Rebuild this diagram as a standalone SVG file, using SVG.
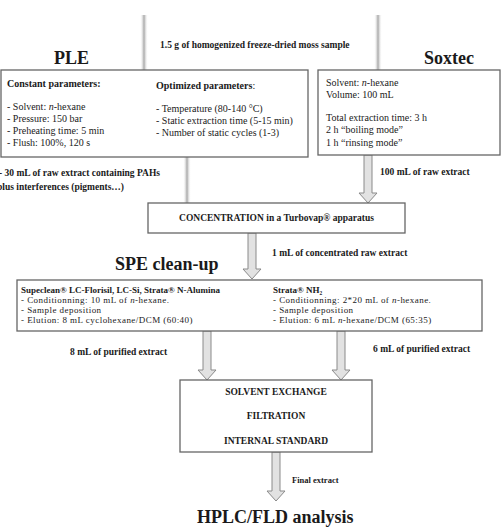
<svg xmlns="http://www.w3.org/2000/svg" width="501" height="530" viewBox="0 0 501 530">
<style>
text{font-family:"Liberation Serif","Times New Roman",serif;fill:#1a1a1a}
.b{font-weight:bold}
.t{font-size:10px}
.s{font-size:9.5px}
.p{font-size:9px}
.ls{letter-spacing:0.45px}
.h{font-size:18px;font-weight:bold}
.i{font-style:italic}
.box{fill:#fff;stroke:#666;stroke-width:1.3}
.arr{fill:#e2e2e2;stroke:#8a8a8a;stroke-width:1}
.bar{fill:url(#g)}
</style>
<defs>
<linearGradient id="g" x1="0" x2="1" y1="0" y2="0">
<stop offset="0" stop-color="#fff" stop-opacity="0"/>
<stop offset="0.5" stop-color="#a8a8a8"/>
<stop offset="1" stop-color="#fff" stop-opacity="0"/>
</linearGradient>
</defs>
<rect width="501" height="530" fill="#fff"/>

<g id="connectors">
<rect class="bar" x="140" y="15" width="8" height="55"/>
<rect class="bar" x="374" y="15" width="8" height="55"/>
<rect class="bar" x="183" y="157" width="8" height="46"/>
<path class="arr" d="M364 155 L372 155 L372 193 L377 193 L368 203 L359 193 L364 193 Z"/>
<path class="arr" d="M248 233 L256 233 L256 269 L261 269 L252 279 L243 269 L248 269 Z"/>
<path class="arr" d="M203 331 L211 331 L211 370 L216 370 L207 380 L198 370 L203 370 Z"/>
<path class="arr" d="M337 331 L345 331 L345 370 L350 370 L341 380 L332 370 L337 370 Z"/>
<path class="arr" d="M272 452 L280 452 L280 491 L285 491 L276 501 L267 491 L272 491 Z"/>
</g>

<g id="labels">
<text class="s b" x="160" y="48">1.5 g of homogenized freeze-dried moss sample</text>
<text class="h" x="54" y="64">PLE</text>
<text class="h" x="424" y="64">Soxtec</text>
<text class="s b" x="-1" y="176">- 30 mL of raw extract containing PAHs</text>
<text class="s b" x="-3" y="190">plus interferences (pigments…)</text>
<text class="s b" x="380" y="175">100 mL of raw extract</text>
<text class="s b" x="272" y="256">1 mL of concentrated raw extract</text>
<text class="h" x="115" y="270">SPE clean-up</text>
<text class="s b" x="70" y="355">8 mL of purified extract</text>
<text class="s b" x="373" y="352">6 mL of purified extract</text>
<text class="b" style="font-size:8.5px" x="292" y="483">Final extract</text>
<text class="h" x="197" y="523">HPLC/FLD analysis</text>
</g>

<g id="ple">
<rect class="box" x="1" y="70" width="307" height="87"/>
<text class="t b" x="7" y="87">Constant parameters:</text>
<text class="t" x="7" y="110">- Solvent: <tspan class="i">n</tspan>-hexane</text>
<text class="t" x="7" y="122">- Pressure: 150 bar</text>
<text class="t" x="7" y="134">- Preheating time: 5 min</text>
<text class="t" x="7" y="146">- Flush: 100%, 120 s</text>
<text class="t" x="156" y="89"><tspan class="b">Optimized parameters</tspan>:</text>
<text class="t" x="156" y="112">- Temperature (80-140 °C)</text>
<text class="t" x="156" y="124">- Static extraction time (5-15 min)</text>
<text class="t" x="156" y="136">- Number of static cycles (1-3)</text>
</g>

<g id="soxtec">
<rect class="box" x="318" y="70" width="182" height="85"/>
<text class="t" x="326" y="86">Solvent: <tspan class="i">n</tspan>-hexane</text>
<text class="t" x="326" y="98">Volume: 100 mL</text>
<text class="t" x="326" y="121">Total extraction time: 3 h</text>
<text class="t" x="326" y="133">2 h “boiling mode”</text>
<text class="t" x="326" y="146">1 h “rinsing mode”</text>
</g>

<g id="concentration">
<rect class="box" x="148" y="203" width="257" height="30"/>
<text class="s b" x="276.5" y="221" text-anchor="middle">CONCENTRATION in a Turbovap® apparatus</text>
</g>

<g id="spe">
<rect class="box" x="17" y="280" width="465" height="51"/>
<text class="p b" x="21" y="293">Supeclean® LC-Florisil, LC-Si, Strata® N-Alumina</text>
<text class="p ls" x="21" y="303">- Conditionning:  10 mL of <tspan class="i">n</tspan>-hexane.</text>
<text class="p ls" x="21" y="313">- Sample deposition</text>
<text class="p ls" x="21" y="323">- Elution: 8 mL cyclohexane/DCM (60:40)</text>
<text class="p b" x="273" y="293">Strata® NH₂</text>
<text class="p ls" x="273" y="303">- Conditionning:  2*20 mL of <tspan class="i">n</tspan>-hexane.</text>
<text class="p ls" x="273" y="313">- Sample deposition</text>
<text class="p ls" x="273" y="323">- Elution: 6 mL <tspan class="i">n</tspan>-hexane/DCM (65:35)</text>
</g>

<g id="final">
<rect class="box" x="180" y="380" width="192" height="72"/>
<text class="s b" x="276" y="395" text-anchor="middle">SOLVENT EXCHANGE</text>
<text class="s b" x="276" y="419" text-anchor="middle">FILTRATION</text>
<text class="s b" x="276" y="444" text-anchor="middle">INTERNAL STANDARD</text>
</g>
</svg>
